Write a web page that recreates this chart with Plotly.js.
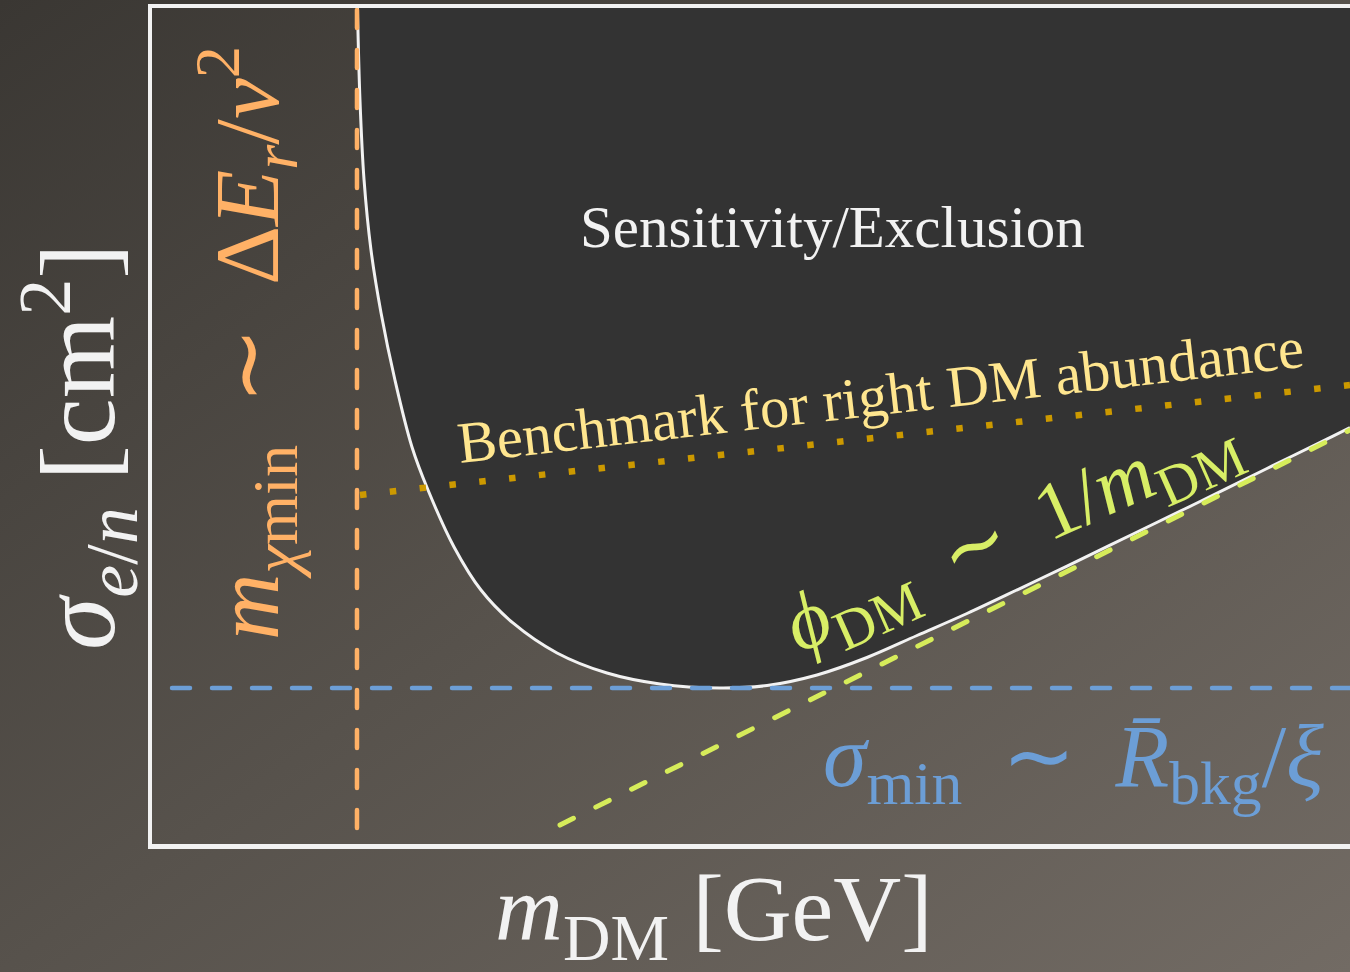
<!DOCTYPE html>
<html>
<head>
<meta charset="utf-8">
<script src="https://cdn.plot.ly/plotly-3.0.1.min.js"></script>
<style>
  html, body { margin: 0; padding: 0; width: 1350px; height: 972px; overflow: hidden; }
  body { background: linear-gradient(to bottom right, #3a3733 0%, #57524c 50%, #726b64 100%); }
  #chart { width: 1350px; height: 972px; }
</style>
</head>
<body>
<div id="chart"></div>
<script>
// Schematic reach plot: log(m_DM) on x, log(sigma) on y, both in arbitrary units (0-100).

// Sensitivity boundary (lower edge of the excluded region)
const boundaryMass  = [17.15, 17.36, 17.70, 18.28, 19.12, 20.28, 21.70, 23.04, 25.21, 27.46, 30.13, 33.81, 37.98, 42.40, 47.41, 51.34, 55.51, 59.68, 63.86, 68.03, 72.45, 76.38, 81.89, 87.48, 93.07, 98.58, 100];
const boundarySigma = [100, 88.99, 79.43, 71.05, 63.52, 55.50, 47.49, 42.34, 35.53, 30.38, 26.44, 22.85, 20.45, 19.14, 18.66, 18.96, 20.22, 22.31, 24.94, 27.57, 30.56, 33.25, 37.08, 40.97, 44.92, 48.80, 49.82];

// Upper edge of the plot, closing the excluded region
const topMass  = [17.15, 100];
const topSigma = [100, 100];

// Kinematic threshold m_chi,min
const thresholdMass  = [17.11, 17.11];
const thresholdSigma = [1.91, 100];

// Background-limited floor sigma_min
const floorMass  = [1.67, 100];
const floorSigma = [18.66, 18.66];

// Flux-limited asymptote ~ 1/m_DM
const fluxMass  = [34.06, 100];
const fluxSigma = [2.27, 49.52];

// Relic-abundance benchmark
const benchmarkMass  = [17.36, 100];
const benchmarkSigma = [41.75, 54.90];

const white  = '#f2f2f2';
const orange = '#ffb166';
const blue   = '#6c9ed6';
const green  = '#d6ec5a';
const gold   = '#cc9900';
const serif  = 'Liberation Serif, Times New Roman, serif';
const rel    = ' \u2009∼ \u2009';   // spaced relation sign

const data = [
  { x: boundaryMass, y: boundarySigma, mode: 'lines', line: { width: 0, shape: 'spline', smoothing: 1 }, hoverinfo: 'skip' },
  { x: topMass, y: topSigma, mode: 'lines', line: { width: 0 }, fill: 'tonexty', fillcolor: '#333333', hoverinfo: 'skip' },
  { x: boundaryMass, y: boundarySigma, mode: 'lines', line: { color: white, width: 3, shape: 'spline', smoothing: 1 }, hoverinfo: 'skip' },
  { x: fluxMass, y: fluxSigma, mode: 'lines', line: { color: green, width: 5, dash: '15px,25px' }, hoverinfo: 'skip' },
  { x: benchmarkMass, y: benchmarkSigma, mode: 'lines', line: { color: gold, width: 6.5, dash: '6.5px,23.5px' }, hoverinfo: 'skip' },
  { x: floorMass, y: floorSigma, mode: 'lines', line: { color: blue, width: 4.5, dash: '18px,22px' }, hoverinfo: 'skip' },
  { x: thresholdMass, y: thresholdSigma, mode: 'lines', line: { color: orange, width: 4.5, dash: '18px,22px' }, hoverinfo: 'skip' }
];

function note(text, x, y, size, color, angle) {
  return { text: text, xref: 'paper', yref: 'paper', x: x, y: y, xanchor: 'center', yanchor: 'middle',
           showarrow: false, textangle: angle || 0, font: { family: serif, size: size, color: color } };
}

const layout = {
  width: 1350, height: 972,
  margin: { l: 152, r: 0, t: 8, b: 128, pad: 0 },
  paper_bgcolor: 'rgba(0,0,0,0)', plot_bgcolor: 'rgba(0,0,0,0)',
  showlegend: false, hovermode: false,
  xaxis: { range: [0, 100], showgrid: false, zeroline: false, showticklabels: false, ticks: '',
           showline: true, mirror: true, linecolor: white, linewidth: 4.5, fixedrange: true },
  yaxis: { range: [0, 100], showgrid: false, zeroline: false, showticklabels: false, ticks: '',
           showline: true, mirror: false, linecolor: white, linewidth: 4.5, fixedrange: true },
  annotations: [
    note('Sensitivity/Exclusion', 0.5684, 0.738, 59, white),
    note('Benchmark for right DM abundance', 0.6077, 0.536, 58.5, '#ffe68f', -6.5),
    note('<i>ϕ</i><sub>DM</sub>' + rel + '1/<i>m</i><sub>DM</sub>', 0.7185, 0.3705, 81, '#d8ee66', -24),
    note('<i>σ</i><sub>min</sub>' + rel + '<i>R̄</i><sub>bkg</sub>/<i>ξ</i>', 0.7696, 0.097, 88, blue),
    note('<i>m</i><sub><i>χ</i>min</sub>' + rel + 'Δ<i>E</i><sub><i>r</i></sub>/<i>v</i><sup>2</sup>', 0.079, 0.599, 92, orange, -90),
    note('<i>σ</i><sub><i>e</i>/<i>n</i></sub> [cm<sup>2</sup>]', -0.0618, 0.476, 106, white, -90),
    note('<i>m</i><sub>DM</sub> [GeV]', 0.469, -0.0855, 94, white)
  ]
};

Plotly.newPlot('chart', data, layout, { displayModeBar: false, staticPlot: true }).then(function (gd) {
  // rounded ends for the dashed guide lines
  const groups = gd.querySelectorAll('.scatterlayer .trace');
  [3, 5, 6].forEach(function (i) {
    const path = groups[i] && groups[i].querySelector('.js-line');
    if (path) path.style.strokeLinecap = 'round';
  });
});
</script>
</body>
</html>
